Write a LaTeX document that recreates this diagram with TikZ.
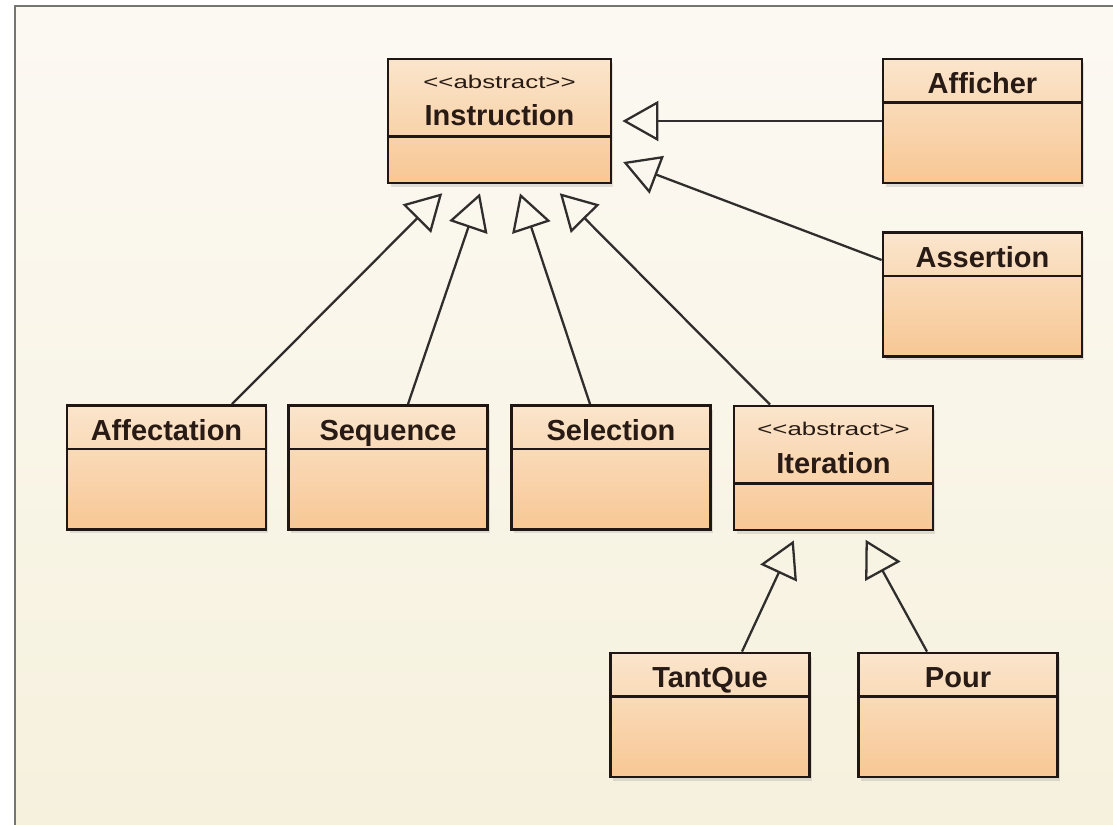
\documentclass[tikz,border=0pt]{standalone}
\usepackage{fontspec}
\setmainfont{Liberation Sans}
\newfontfamily\stereofont{Liberation Sans}
\usepackage{graphicx}
\usepackage{tikz}
\usetikzlibrary{positioning}
\usetikzlibrary{calc,arrows.meta,shadows}

\definecolor{BoxTop}{RGB}{250,229,204}
\definecolor{BoxBottom}{RGB}{248,199,148}
\definecolor{BoxLine}{RGB}{32,22,20}
\definecolor{LinkLine}{RGB}{48,46,44}
\definecolor{NameText}{RGB}{40,26,20}
\definecolor{PaperTop}{RGB}{252,249,243}
\definecolor{PaperBottom}{RGB}{246,241,221}
\definecolor{Frame}{RGB}{118,118,112}

\tikzset{
	classbox/.style={draw=BoxLine, line width=1.6pt, top color=BoxTop, bottom color=BoxBottom,
		minimum width=3.98cm, minimum height=2.48cm, inner sep=0pt,
		drop shadow={opacity=0.22, shadow xshift=0.05cm, shadow yshift=-0.08cm}},
	divider/.style={draw=BoxLine, line width=1.3pt},
	classname/.style={anchor=base, inner sep=0pt, text=NameText, font=\fontsize{16.5}{18}\selectfont\bfseries},
	stereotype/.style={anchor=base, inner sep=0pt, text=NameText, font=\fontsize{10.5}{12}\stereofont},
	inherit/.style={draw=LinkLine, line width=1.3pt, -{Triangle[open, length=0.72cm, width=0.8cm]}},
}

\begin{document}
\begin{tikzpicture}[x=0.02cm, y=-0.02cm]
	
	% ---------------------
	% Paper
	\useasboundingbox (0,0) rectangle (1113,825);
	\fill[white] (0,0) rectangle (1113,825);
	\shade[top color=PaperTop, bottom color=PaperBottom] (15,6) rectangle (1113,825);
	\draw[Frame, line width=1.6pt] (15,825) -- (15,6) -- (1113,6);
	
	% ---------------------
	% Abstract classes
	\node[classbox, minimum width=4.46cm] (Instruction) at (499.5,121) {};
	\draw[divider] ([yshift=-1.58cm]Instruction.north west) -- ([yshift=-1.58cm]Instruction.north east);
	\node[stereotype] (InstructionStereo) at ([yshift=-0.62cm]Instruction.north) {\scalebox{1.4}[1]{<<abstract>>}};
	\node[classname] (InstructionName) at ([yshift=-1.36cm]Instruction.north) {Instruction};
	
	\node[classbox] (Iteration) at (833.5,468) {};
	\draw[divider] ([yshift=-1.58cm]Iteration.north west) -- ([yshift=-1.58cm]Iteration.north east);
	\node[stereotype] (IterationStereo) at ([yshift=-0.62cm]Iteration.north) {\scalebox{1.4}[1]{<<abstract>>}};
	\node[classname] (IterationName) at ([yshift=-1.38cm]Iteration.north) {Iteration};
	
	% ---------------------
	% Concrete classes
	\node[classbox] (Afficher) at (982.5,121) {};
	\node[classbox] (Assertion) at (982.5,294.5) {};
	\node[classbox] (Affectation) at (166.5,467.5) {};
	\node[classbox] (Sequence) at (388,467.5) {};
	\node[classbox] (Selection) at (611,467.5) {};
	\node[classbox] (TantQue) at (710,715) {};
	\node[classbox] (Pour) at (958,715) {};
	
	\foreach \cls in {Afficher,Assertion,Affectation,Sequence,Selection,TantQue,Pour}{
		\draw[divider] ([yshift=-0.9cm]\cls.north west) -- ([yshift=-0.9cm]\cls.north east);
		\node[classname] (\cls Name) at ([yshift=-0.72cm]\cls.north) {\cls};
	}
	
	% ------------------------------------------------
	% Generalisations
	\draw[inherit, shorten >=0.2cm] (Afficher.west) -- (Instruction.east);
	\draw[inherit, shorten >=0.23cm] ([yshift=0.69cm]Assertion.west) -- ([yshift=-0.74cm]Instruction.east);
	
	\draw[inherit, shorten >=0.25cm] ([xshift=1.31cm]Affectation.north) -- ([xshift=-0.97cm]Instruction.south);
	\draw[inherit, shorten >=0.19cm] ([xshift=0.4cm]Sequence.north) -- ([xshift=-0.33cm]Instruction.south);
	\draw[inherit, shorten >=0.19cm] ([xshift=-0.42cm]Selection.north) -- ([xshift=0.35cm]Instruction.south);
	\draw[inherit, shorten >=0.25cm] ([xshift=-1.27cm]Iteration.north) -- ([xshift=1.03cm]Instruction.south);
	
	\draw[inherit, shorten >=0.2cm] ([xshift=0.64cm]TantQue.north) -- ([xshift=-0.71cm]Iteration.south);
	\draw[inherit, shorten >=0.19cm] ([xshift=-0.62cm]Pour.north) -- ([xshift=0.55cm]Iteration.south);
	
\end{tikzpicture}
\end{document}
